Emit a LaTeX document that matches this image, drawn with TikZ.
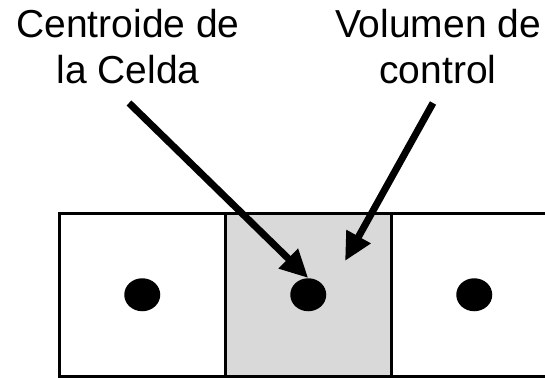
\documentclass[tikz,border=0pt]{standalone}
\usepackage{fontspec}
\setmainfont{Liberation Sans}
\usetikzlibrary{arrows.meta,shapes.geometric}
\begin{document}
\begin{tikzpicture}[x=1pt,y=-1pt,
  cell/.style={draw,line width=2.5pt,minimum width=166pt,minimum height=163pt,inner sep=0pt,anchor=north west},
  centroid/.style={ellipse,fill,minimum width=36pt,minimum height=33pt,inner sep=0pt},
  lbl/.style={align=center,anchor=north,inner sep=0pt,font=\fontsize{39pt}{46pt}\selectfont},
  pointer/.style={line width=7pt,-{Triangle[length=28pt,width=26pt]}}]
  \useasboundingbox (0,0) rectangle (545,377);
  % the three cells, the middle one is the control volume
  \node[cell,fill=black!15] (cvcell) at (224,212) {};
  \node[cell] (westcell) at (58,212) {};
  \node[cell] (eastcell) at (390,212) {};
  \foreach \c in {westcell,cvcell,eastcell}
    \node[centroid] (\c dot) at (\c.center) {};
  % labels and pointers
  \node[lbl] (cname) at (128,9) {Centroide de\\la Celda};
  \node[lbl] (vname) at (438,9) {Volumen de\\control};
  \coordinate (ctail) at (129,103);
  \coordinate (vtail) at (433,103);
  \coordinate (vtip) at (345,261);
  \draw[pointer] (ctail) -- (cvcelldot.north);
  \draw[pointer] (vtail) -- (vtip);
\end{tikzpicture}
\end{document}
